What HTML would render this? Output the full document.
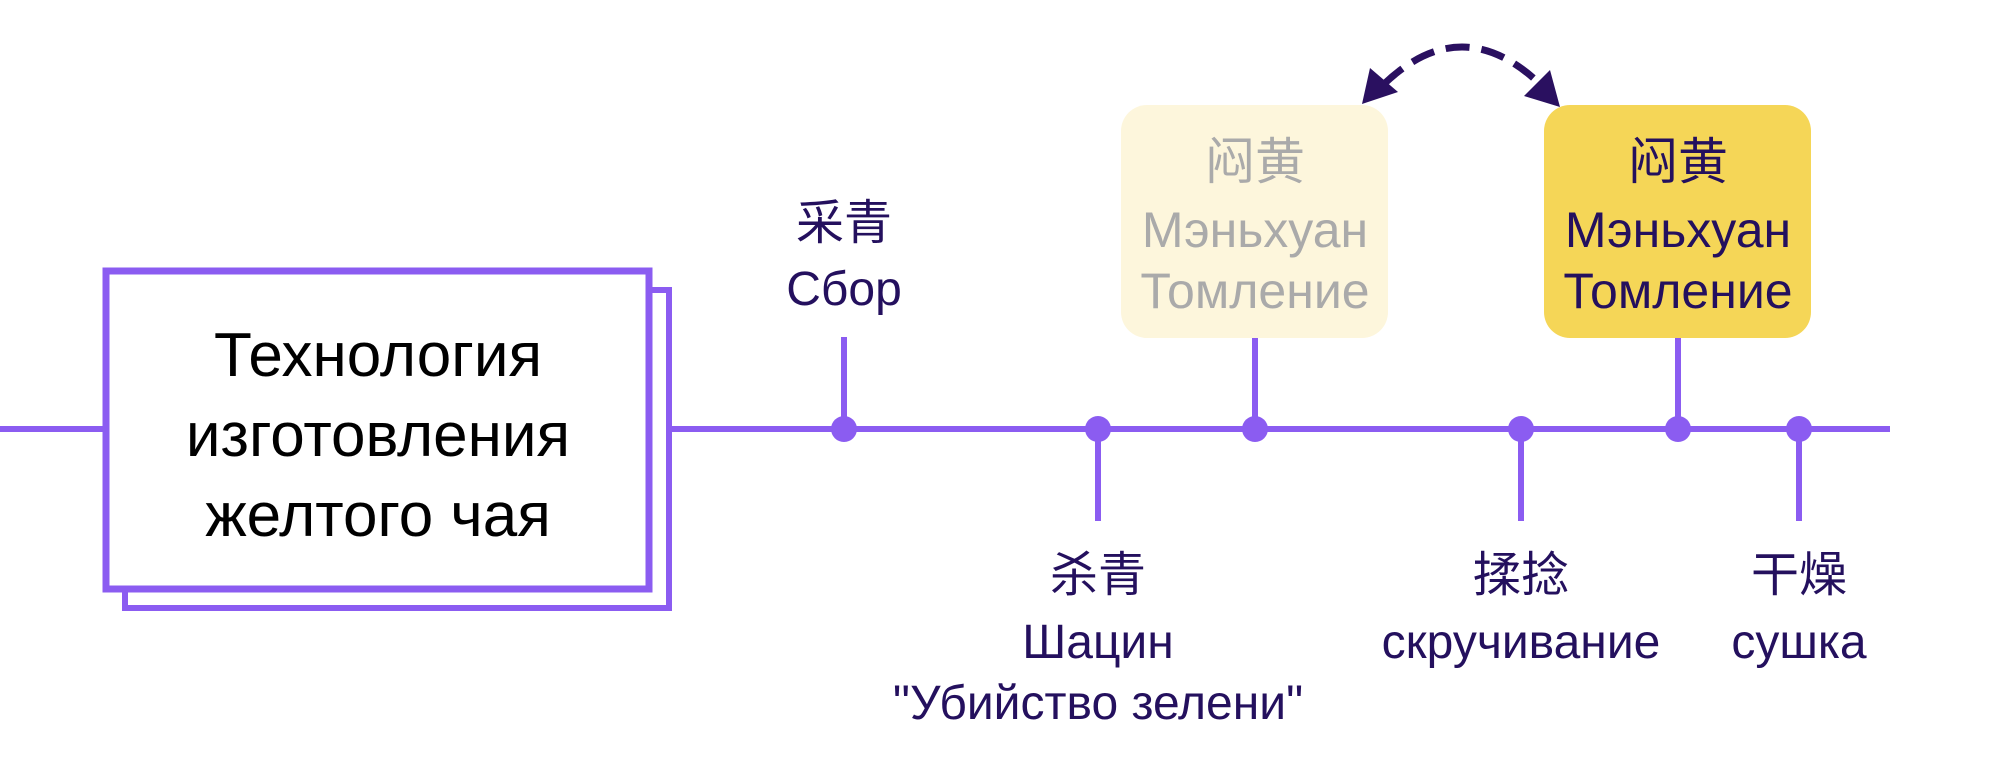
<!DOCTYPE html>
<html><head><meta charset="utf-8"><style>
html,body{margin:0;padding:0;background:#fff;}
body{width:2002px;height:764px;position:relative;overflow:hidden;font-family:"Liberation Sans","Noto Sans CJK SC",sans-serif;}
.t{position:absolute;transform:translateX(-50%);white-space:nowrap;text-align:center;color:#24105e;font-size:48px;line-height:1;}
.b{font-size:50px;}
</style></head><body>
<svg width="2002" height="764" style="position:absolute;left:0;top:0">
<line x1="0" y1="429" x2="1890" y2="429" stroke="#8b5cf1" stroke-width="6"/>
<rect x="125" y="290" width="544" height="318" fill="#fff" stroke="#8b5cf1" stroke-width="6"/>
<rect x="106" y="271" width="543" height="318" fill="#fff" stroke="#8b5cf1" stroke-width="7"/>
<rect x="1121" y="105" width="267" height="233" rx="26" fill="#fdf6dc"/>
<rect x="1544" y="105" width="267" height="233" rx="26" fill="#f5d657"/>
<g stroke="#8b5cf1" stroke-width="6">
<line x1="844" y1="337" x2="844" y2="429"/>
<line x1="1098" y1="429" x2="1098" y2="521"/>
<line x1="1255" y1="338" x2="1255" y2="429"/>
<line x1="1521" y1="429" x2="1521" y2="521"/>
<line x1="1678" y1="338" x2="1678" y2="429"/>
<line x1="1799" y1="429" x2="1799" y2="521"/>
</g>
<g fill="#8b5cf1">
<circle cx="844" cy="429" r="13"/><circle cx="1098" cy="429" r="13"/><circle cx="1255" cy="429" r="13"/>
<circle cx="1521" cy="429" r="13"/><circle cx="1678" cy="429" r="13"/><circle cx="1799" cy="429" r="13"/>
</g>
<path d="M1384,84 Q1462,10 1540,84" fill="none" stroke="#2a1060" stroke-width="7" stroke-dasharray="24,12"/>
<polygon points="1362,104 1370,68 1398,92" fill="#2a1060"/>
<polygon points="1560,107 1524,96 1550,70" fill="#2a1060"/>
</svg>
<div class="t" style="left:378px;top:316px;color:#000;font-size:62px;line-height:80px">Технология<br>изготовления<br>желтого чая</div>
<div class="t" style="left:844px;top:200px">采青</div>
<div class="t" style="left:844px;top:266px">Сбор</div>
<div class="t" style="left:1098px;top:552px">杀青</div>
<div class="t" style="left:1098px;top:619px">Шацин</div>
<div class="t" style="left:1098px;top:680px">"Убийство зелени"</div>
<div class="t" style="left:1521px;top:552px">揉捻</div>
<div class="t" style="left:1521px;top:619px">скручивание</div>
<div class="t" style="left:1799px;top:552px">干燥</div>
<div class="t" style="left:1799px;top:619px">сушка</div>
<div class="t b" style="left:1255px;top:137px;color:#aaa">闷黄</div>
<div class="t b" style="left:1255px;top:205px;color:#aaa">Мэньхуан</div>
<div class="t b" style="left:1255px;top:266px;color:#aaa">Томление</div>
<div class="t b" style="left:1678px;top:137px">闷黄</div>
<div class="t b" style="left:1678px;top:205px">Мэньхуан</div>
<div class="t b" style="left:1678px;top:266px">Томление</div>
</body></html>
